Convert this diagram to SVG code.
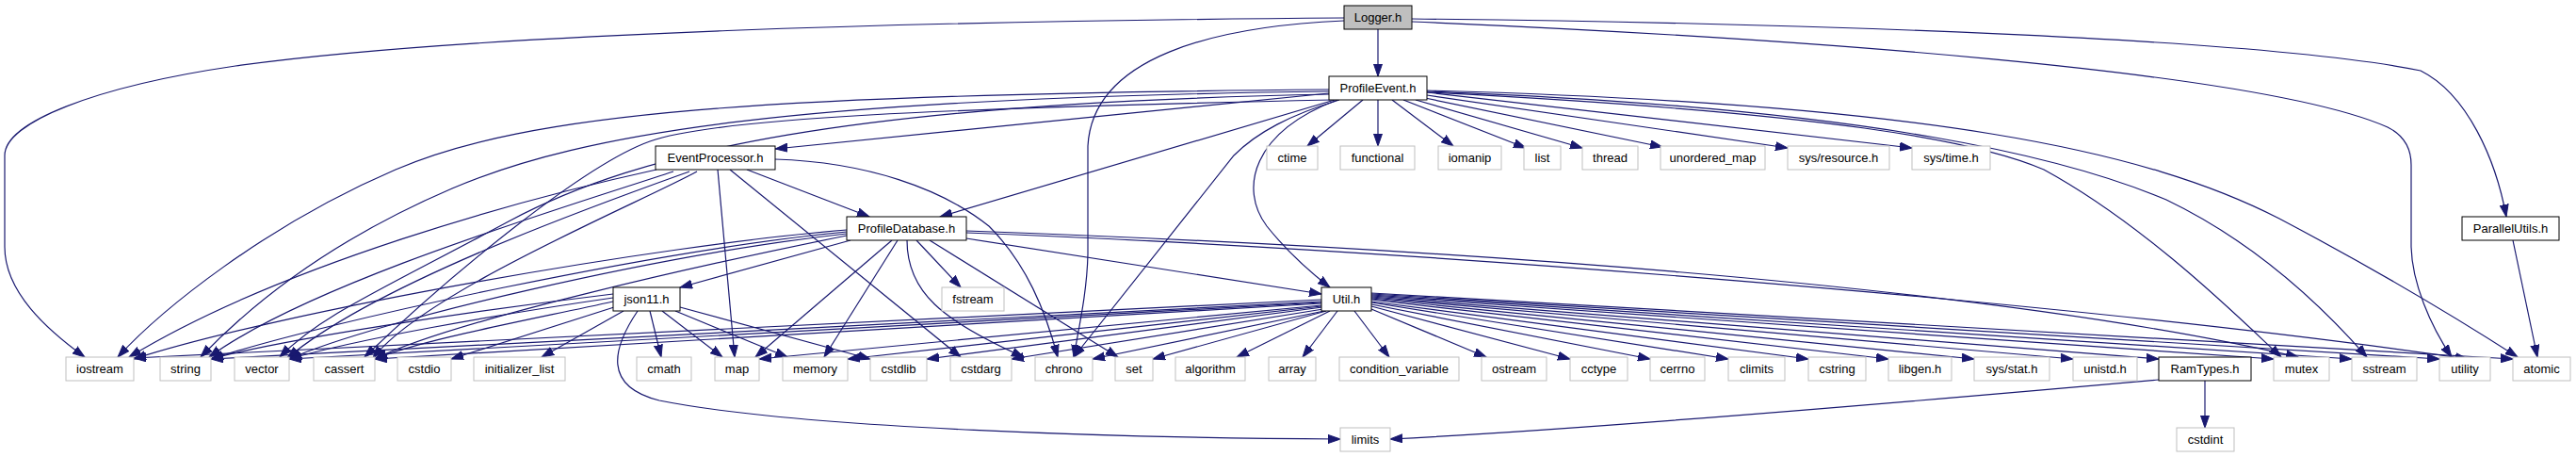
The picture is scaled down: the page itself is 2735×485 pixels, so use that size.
<svg xmlns="http://www.w3.org/2000/svg" width="2735" height="485" viewBox="0 0 2735 485">
<style>
.n rect{fill:#fff;stroke:#000;stroke-width:1}
.x rect{fill:#fff;stroke:#bfbfbf;stroke-width:1}
#Logger rect{fill:#bfbfbf}
text{font-family:"Liberation Sans",Arial,Helvetica,sans-serif;font-size:13px;text-anchor:middle;fill:#000}
#edges path{fill:none;stroke:#191970;stroke-width:1.2;marker-end:url(#a)}
</style>
<defs>
<marker id="a" markerUnits="userSpaceOnUse" markerWidth="14" markerHeight="10" refX="13" refY="5" orient="auto">
<path d="M0,0.5 L13,5 L0,9.5 z" fill="#191970" stroke="#191970" stroke-width="1"/>
</marker>
</defs>
<rect width="2735" height="485" fill="#fff"/>
<g id="edges">
<path d="M1463,31 L1463,81"/>
<path d="M1427,19 C1000,22 500,35 250,70 C100,92 5,130 5,165 L5,262 C5,310 50,350 90,379"/>
<path d="M1427,22 C1290,28 1160,60 1155,155 L1155,270 C1154,310 1146,345 1140,379"/>
<path d="M1499,23 C1900,40 2400,75 2535,135 C2555,145 2560,160 2560,175 L2560,262 C2561,300 2580,345 2603,379"/>
<path d="M1499,20 C1900,24 2400,40 2570,75 C2620,100 2650,170 2661,230"/>
<path d="M1447,106 L1388,155"/>
<path d="M1463,106 L1463,155"/>
<path d="M1478,106 L1543,155"/>
<path d="M1490,106 L1620,157"/>
<path d="M1503,106 L1680,157"/>
<path d="M1513,104 L1765,156"/>
<path d="M1515,101 L1898,157"/>
<path d="M1515,98 L2030,157"/>
<path d="M1411,99 L823,158"/>
<path d="M1417,106 L998,230"/>
<path d="M1420,106 C1330,140 1315,200 1345,240 C1365,265 1390,288 1412,305"/>
<path d="M1422,106 C1370,122 1335,140 1310,165 L1140,379"/>
<path d="M1411,95 C800,100 560,120 420,180 S170,330 125,379"/>
<path d="M1411,97 C850,104 620,140 480,200 S260,330 213,379"/>
<path d="M1412,100 C900,110 680,160 540,235 S340,335 297,379"/>
<path d="M1414,106 C1000,115 760,125 690,150 S480,290 387,379"/>
<path d="M1515,98 C1950,120 2100,150 2170,180 C2280,240 2380,340 2422,379"/>
<path d="M1515,97 C2000,115 2200,170 2300,212 C2400,260 2470,330 2513,379"/>
<path d="M1515,96 C2050,110 2280,160 2420,232 C2530,290 2620,345 2673,379"/>
<path d="M697,180 C560,210 300,280 137,379"/>
<path d="M715,182 C600,220 330,300 222,379"/>
<path d="M732,182 C640,215 400,300 305,380"/>
<path d="M740,182 C680,215 450,310 396,380"/>
<path d="M762,180 L780,379"/>
<path d="M775,180 L1020,379"/>
<path d="M793,180 L923,230"/>
<path d="M823,169 C920,172 1000,200 1050,240 C1090,280 1110,330 1123,379"/>
<path d="M903,255 L722,305"/>
<path d="M947,255 L802,379"/>
<path d="M953,255 L875,379"/>
<path d="M973,255 L1020,305"/>
<path d="M963,255 C963,310 1000,340 1087,379"/>
<path d="M987,255 L1187,379"/>
<path d="M1026,253 L1403,312"/>
<path d="M1026,245 C1500,262 2100,300 2440,379"/>
<path d="M1026,247 C1500,265 2200,320 2620,381"/>
<path d="M899,244 C700,260 300,330 142,381"/>
<path d="M899,246 C700,265 350,340 224,381"/>
<path d="M899,248 C700,270 400,340 307,381"/>
<path d="M899,250 C750,280 480,340 398,381"/>
<path d="M651,312 C500,330 300,360 224,381"/>
<path d="M651,316 C520,335 380,360 307,381"/>
<path d="M651,320 C560,340 450,360 398,381"/>
<path d="M652,326 L479,381"/>
<path d="M662,330 L575,379"/>
<path d="M690,330 L702,379"/>
<path d="M703,330 L767,379"/>
<path d="M717,330 L836,379"/>
<path d="M722,326 L924,381"/>
<path d="M677,330 C650,370 640,410 700,425 C850,455 1200,465 1423,466"/>
<path d="M1403,318 L142,380"/>
<path d="M1403,320 L224,381"/>
<path d="M1403,321 L307,381"/>
<path d="M1403,322 L398,381"/>
<path d="M1403,324 L806,381"/>
<path d="M1403,325 L900,381"/>
<path d="M1404,326 L984,381"/>
<path d="M1405,328 L1074,381"/>
<path d="M1406,330 L1160,381"/>
<path d="M1408,330 L1224,381"/>
<path d="M1412,330 L1313,379"/>
<path d="M1420,330 L1383,379"/>
<path d="M1438,330 L1475,379"/>
<path d="M1456,328 L1578,379"/>
<path d="M1456,325 L1667,381"/>
<path d="M1456,323 L1752,381"/>
<path d="M1456,321 L1835,381"/>
<path d="M1456,320 L1920,381"/>
<path d="M1456,318 L2005,381"/>
<path d="M1456,317 L2096,381"/>
<path d="M1456,316 L2201,381"/>
<path d="M1456,315 L2292,381"/>
<path d="M1456,314 L2414,381"/>
<path d="M1456,313 L2497,381"/>
<path d="M1456,312 L2590,381"/>
<path d="M1456,311 L2668,381"/>
<path d="M2292,403 C2100,420 1700,455 1476,466"/>
<path d="M2341,404 L2341,454"/>
<path d="M2668,255 L2694,379"/>
</g>
<g id="Logger" class="n"><rect x="1427" y="6" width="72" height="25"/><text x="1463" y="23">Logger.h</text></g>
<g id="ProfileEvent" class="n"><rect x="1411" y="81" width="104" height="25"/><text x="1463" y="98">ProfileEvent.h</text></g>
<g id="EventProcessor" class="n"><rect x="696" y="155" width="127" height="25"/><text x="759.5" y="172">EventProcessor.h</text></g>
<g id="ProfileDatabase" class="n"><rect x="899" y="230" width="127" height="25"/><text x="962.5" y="247">ProfileDatabase.h</text></g>
<g id="ParallelUtils" class="n"><rect x="2614" y="230" width="103" height="25"/><text x="2665.5" y="247">ParallelUtils.h</text></g>
<g id="json11" class="n"><rect x="651" y="305" width="71" height="25"/><text x="686.5" y="322">json11.h</text></g>
<g id="Util" class="n"><rect x="1403" y="305" width="53" height="25"/><text x="1429.5" y="322">Util.h</text></g>
<g id="RamTypes" class="n"><rect x="2292" y="379" width="98" height="25"/><text x="2341" y="396">RamTypes.h</text></g>
<g id="ctime" class="x"><rect x="1345" y="155" width="54" height="25"/><text x="1372" y="172">ctime</text></g>
<g id="functional" class="x"><rect x="1423" y="155" width="79" height="25"/><text x="1462.5" y="172">functional</text></g>
<g id="iomanip" class="x"><rect x="1527" y="155" width="67" height="25"/><text x="1560.5" y="172">iomanip</text></g>
<g id="list" class="x"><rect x="1618" y="155" width="39" height="25"/><text x="1637.5" y="172">list</text></g>
<g id="thread" class="x"><rect x="1680" y="155" width="59" height="25"/><text x="1709.5" y="172">thread</text></g>
<g id="unordered_map" class="x"><rect x="1763" y="155" width="111" height="25"/><text x="1818.5" y="172">unordered_map</text></g>
<g id="sys_resource" class="x"><rect x="1898" y="155" width="108" height="25"/><text x="1952" y="172">sys/resource.h</text></g>
<g id="sys_time" class="x"><rect x="2030" y="155" width="83" height="25"/><text x="2071.5" y="172">sys/time.h</text></g>
<g id="fstream" class="x"><rect x="1000" y="305" width="66" height="25"/><text x="1033" y="322">fstream</text></g>
<g id="iostream" class="x"><rect x="70" y="379" width="72" height="25"/><text x="106" y="396">iostream</text></g>
<g id="string" class="x"><rect x="170" y="379" width="54" height="25"/><text x="197" y="396">string</text></g>
<g id="vector" class="x"><rect x="249" y="379" width="58" height="25"/><text x="278" y="396">vector</text></g>
<g id="cassert" class="x"><rect x="333" y="379" width="65" height="25"/><text x="365.5" y="396">cassert</text></g>
<g id="cstdio" class="x"><rect x="422" y="379" width="57" height="25"/><text x="450.5" y="396">cstdio</text></g>
<g id="initializer_list" class="x"><rect x="503" y="379" width="97" height="25"/><text x="551.5" y="396">initializer_list</text></g>
<g id="cmath" class="x"><rect x="676" y="379" width="58" height="25"/><text x="705" y="396">cmath</text></g>
<g id="map" class="x"><rect x="759" y="379" width="47" height="25"/><text x="782.5" y="396">map</text></g>
<g id="memory" class="x"><rect x="831" y="379" width="69" height="25"/><text x="865.5" y="396">memory</text></g>
<g id="cstdlib" class="x"><rect x="924" y="379" width="60" height="25"/><text x="954" y="396">cstdlib</text></g>
<g id="cstdarg" class="x"><rect x="1009" y="379" width="65" height="25"/><text x="1041.5" y="396">cstdarg</text></g>
<g id="chrono" class="x"><rect x="1099" y="379" width="61" height="25"/><text x="1129.5" y="396">chrono</text></g>
<g id="set" class="x"><rect x="1184" y="379" width="40" height="25"/><text x="1204" y="396">set</text></g>
<g id="algorithm" class="x"><rect x="1248" y="379" width="74" height="25"/><text x="1285" y="396">algorithm</text></g>
<g id="array" class="x"><rect x="1347" y="379" width="50" height="25"/><text x="1372" y="396">array</text></g>
<g id="condition_variable" class="x"><rect x="1422" y="379" width="127" height="25"/><text x="1485.5" y="396">condition_variable</text></g>
<g id="ostream" class="x"><rect x="1573" y="379" width="69" height="25"/><text x="1607.5" y="396">ostream</text></g>
<g id="cctype" class="x"><rect x="1667" y="379" width="61" height="25"/><text x="1697.5" y="396">cctype</text></g>
<g id="cerrno" class="x"><rect x="1752" y="379" width="58" height="25"/><text x="1781" y="396">cerrno</text></g>
<g id="climits" class="x"><rect x="1835" y="379" width="60" height="25"/><text x="1865" y="396">climits</text></g>
<g id="cstring" class="x"><rect x="1920" y="379" width="61" height="25"/><text x="1950.5" y="396">cstring</text></g>
<g id="libgen" class="x"><rect x="2005" y="379" width="67" height="25"/><text x="2038.5" y="396">libgen.h</text></g>
<g id="sys_stat" class="x"><rect x="2096" y="379" width="80" height="25"/><text x="2136" y="396">sys/stat.h</text></g>
<g id="unistd" class="x"><rect x="2201" y="379" width="68" height="25"/><text x="2235" y="396">unistd.h</text></g>
<g id="mutex" class="x"><rect x="2414" y="379" width="59" height="25"/><text x="2443.5" y="396">mutex</text></g>
<g id="sstream" class="x"><rect x="2497" y="379" width="69" height="25"/><text x="2531.5" y="396">sstream</text></g>
<g id="utility" class="x"><rect x="2590" y="379" width="54" height="25"/><text x="2617" y="396">utility</text></g>
<g id="atomic" class="x"><rect x="2668" y="379" width="61" height="25"/><text x="2698.5" y="396">atomic</text></g>
<g id="limits" class="x"><rect x="1423" y="454" width="53" height="25"/><text x="1449.5" y="471">limits</text></g>
<g id="cstdint" class="x"><rect x="2311" y="454" width="61" height="25"/><text x="2341.5" y="471">cstdint</text></g>
</svg>
